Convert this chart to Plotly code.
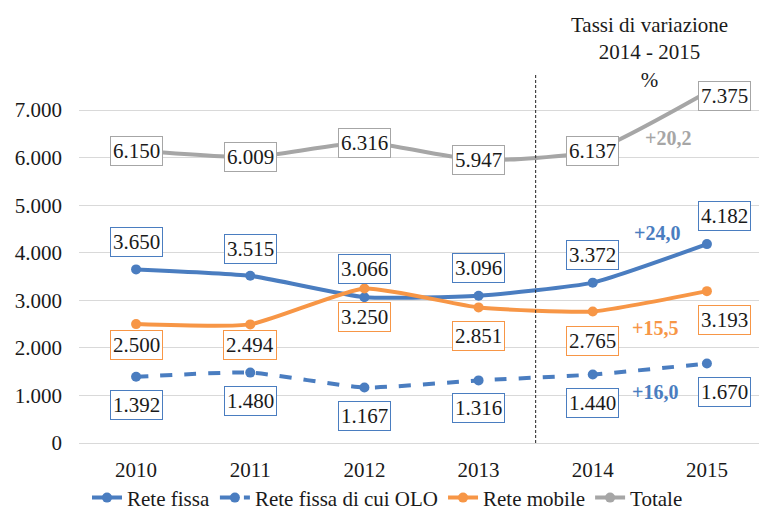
import plotly.graph_objects as go

years = ["2010", "2011", "2012", "2013", "2014", "2015"]
rete_fissa = [3650, 3515, 3066, 3096, 3372, 4182]
rete_fissa_olo = [1392, 1480, 1167, 1316, 1440, 1670]
rete_mobile = [2500, 2494, 3250, 2851, 2765, 3193]
totale = [6150, 6009, 6316, 5947, 6137, 7375]
series_names = ["Rete fissa", "Rete fissa di cui OLO", "Rete mobile", "Totale"]
header_text = "Tassi di variazione<br>2014 - 2015<br>%"

BLUE = "#4A7DC0"
ORANGE = "#F79646"
GREY = "#A6A6A6"
FONT = "Liberation Serif, Times New Roman, serif"

def it_num(v):
    return f"{v:,}".replace(",", ".")

def it_pct(a, b):
    return "+" + f"{(b / a - 1) * 100:.1f}".replace(".", ",")

series = [
    dict(name=series_names[0], y=rete_fissa, color=BLUE, dash="solid",
         lab_shift=[27, 27, 28, 28, 28, 28], pct_shift=(7, 30)),
    dict(name=series_names[1], y=rete_fissa_olo, color=BLUE, dash="dash",
         lab_shift=[-28, -28, -28, -28, -28, -28], pct_shift=(5, -23)),
    dict(name=series_names[2], y=rete_mobile, color=ORANGE, dash="solid",
         lab_shift=[-21, -21, -29, -29, -29, -29], pct_shift=(5, -27)),
    dict(name=series_names[3], y=totale, color=GREY, dash="solid",
         lab_shift=[0, 0, 0, 0, 0, -4], pct_shift=(18, -16)),
]

fig = go.Figure()
annotations = []
for s in series:
    fig.add_trace(go.Scatter(
        x=years, y=s["y"], name=s["name"], mode="lines+markers",
        line=dict(color=s["color"], width=4, dash=s["dash"], shape="spline", smoothing=0.5),
        marker=dict(color=s["color"], size=10),
    ))
    for i, v in enumerate(s["y"]):
        annotations.append(dict(
            x=i, y=v, xref="x", yref="y", text=it_num(v), showarrow=False,
            font=dict(family=FONT, size=21, color="#1a1a1a"),
            bgcolor="white", bordercolor=s["color"], borderwidth=1, borderpad=2,
            xshift=18 if i == len(years) - 1 else 0, yshift=s["lab_shift"][i],
        ))
    a, b = s["y"][-2], s["y"][-1]
    annotations.append(dict(
        x=4.5, y=(a + b) / 2, xref="x", yref="y", text="<b>" + it_pct(a, b) + "</b>",
        showarrow=False, font=dict(family=FONT, size=20, color=s["color"]),
        xshift=s["pct_shift"][0], yshift=s["pct_shift"][1],
    ))

annotations.append(dict(
    x=4.5, y=1.138, xref="x", yref="paper", yanchor="top", text=header_text,
    showarrow=False, font=dict(family=FONT, size=21, color="#1a1a1a"),
))

fig.add_shape(type="line", x0=3.5, x1=3.5, y0=0, y1=7750, xref="x", yref="y",
              line=dict(color="#222222", width=1, dash="3px,2px"))

# page body has an 8px margin, so the figure is placed at (8, 8) in the window
fig.update_layout(
    width=759, height=502,
    margin=dict(l=71, r=3, t=55, b=67, autoexpand=False),
    paper_bgcolor="white", plot_bgcolor="white",
    separators=",.",
    font=dict(family=FONT, size=21, color="#1a1a1a"),
    annotations=annotations,
    showlegend=True,
    legend=dict(orientation="h", xref="container", yref="container",
                x=0.5, xanchor="center", y=0.024, yanchor="middle",
                font=dict(family=FONT, size=21, color="#1a1a1a"),
                itemwidth=30, tracegroupgap=0, bgcolor="rgba(0,0,0,0)"),
    xaxis=dict(type="category", range=[-0.5, 5.5], showgrid=False, automargin=False,
               showline=True, linecolor="#D9D9D9", linewidth=1, ticks="",
               ticklabelstandoff=8,
               tickfont=dict(family=FONT, size=21), fixedrange=True),
    yaxis=dict(range=[0, 7990], tickvals=[0, 1000, 2000, 3000, 4000, 5000, 6000, 7000],
               tickformat=",d", showgrid=True, gridcolor="#D9D9D9", gridwidth=1,
               zeroline=False, showline=False, ticks="", automargin=False,
               ticklabelstandoff=16,
               tickfont=dict(family=FONT, size=21), fixedrange=True),
)

fig.write_html("out.html")
